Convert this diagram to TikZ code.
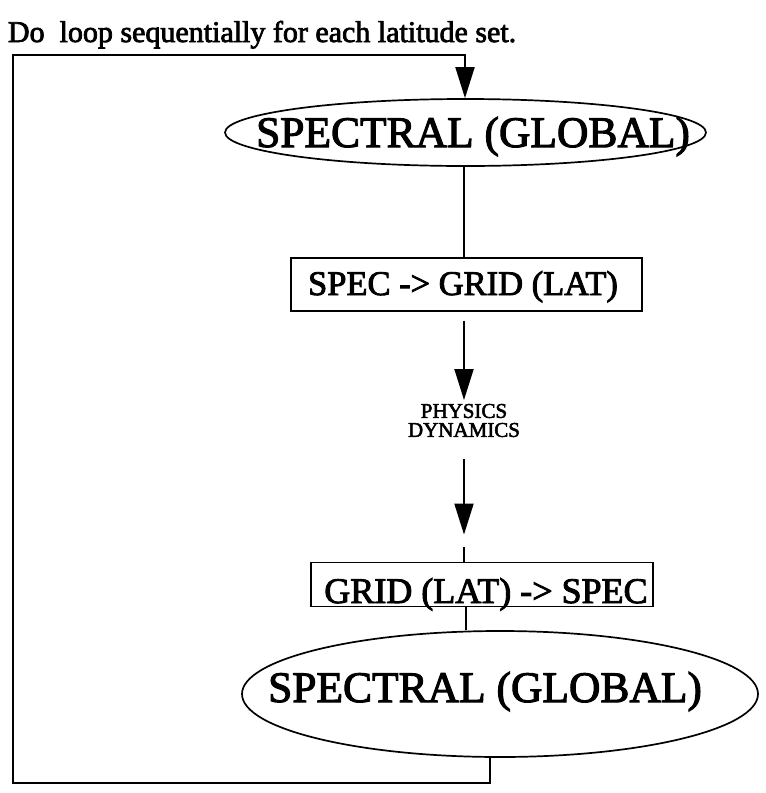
\documentclass[tikz,border=0pt]{standalone}
\usepackage{fontspec}
\setmainfont{Liberation Serif}[FakeBold=2.5]
\usetikzlibrary{shapes.geometric,arrows.meta}
\begin{document}
\begin{tikzpicture}[x=1pt,y=-1pt,
  line width=1.9pt,
  specell/.style={draw, ellipse, inner sep=0pt, line width=1.7pt},
  stagebox/.style={draw, rectangle, inner sep=0pt, line width=1.9pt},
  flowarrow/.style={-{Triangle[length=31pt,width=19pt]}},
  plain/.style={inner sep=0pt, anchor=base},
  bigtext/.style={plain, font=\fontsize{43.5}{46}\selectfont},
  boxtext/.style={plain, font=\fontsize{34.5}{38}\selectfont},
  steptext/.style={inner sep=0pt, align=center, font=\fontsize{21}{19}\selectfont},
  titletext/.style={inner sep=0pt, anchor=base west, font=\fontsize{30}{32}\selectfont}
]
\useasboundingbox (0,0) rectangle (766,793);

% heading
\node[titletext] (title) at (7,42) {Do\ \ loop sequentially for each latitude set.};

% shapes of the flow
\node[specell, minimum width=481pt, minimum height=67pt] (s1) at (465.5,132.5) {};
\node[stagebox, minimum width=351pt, minimum height=53pt] (b1) at (466.5,284.5) {};
\node[steptext, anchor=north] (phys) at (464,403) {PHYSICS\\DYNAMICS};
\node[stagebox, minimum width=342pt, minimum height=44pt] (b2) at (482,584.5) {};
\node[specell, minimum width=516pt, minimum height=126pt] (s2) at (500,694) {};

% labels
\node[bigtext] (s1t) at (473,147) {SPECTRAL (GLOBAL)};
\node[boxtext] (b1t) at (463,295) {SPEC -> GRID (LAT)};
\node[plain, font=\fontsize{36}{40}\selectfont] (b2t) at (486,603) {GRID (LAT) -> SPEC};
\node[bigtext] (s2t) at (485,702) {SPECTRAL (GLOBAL)};

% loop path
\coordinate (lb) at (490,783);
\coordinate (ll) at (13,783);
\coordinate (lt) at (13,55);
\coordinate (lr) at (465,55);
\coordinate (stub) at (464,547);
\coordinate (riser) at (464,0);
\coordinate (drop) at (466,0);

% connectors
\draw (s1.south -| riser) -- (riser |- b1.north);
\draw[flowarrow, shorten <=9pt, shorten >=3pt] (phys.north |- b1.south) -- (phys.north);
\draw[flowarrow, shorten <=21pt, shorten >=27pt] (phys.south) -- (phys.south |- b2.north);
\draw (stub) -- (stub |- b2.north);
\draw (b2.south -| drop) -- (drop |- s2.north);
\draw[flowarrow] (s2.south -| lb) -- (lb) -- (ll) -- (lt) -- (lr) -- (s1.north -| lr);
\end{tikzpicture}
\end{document}
